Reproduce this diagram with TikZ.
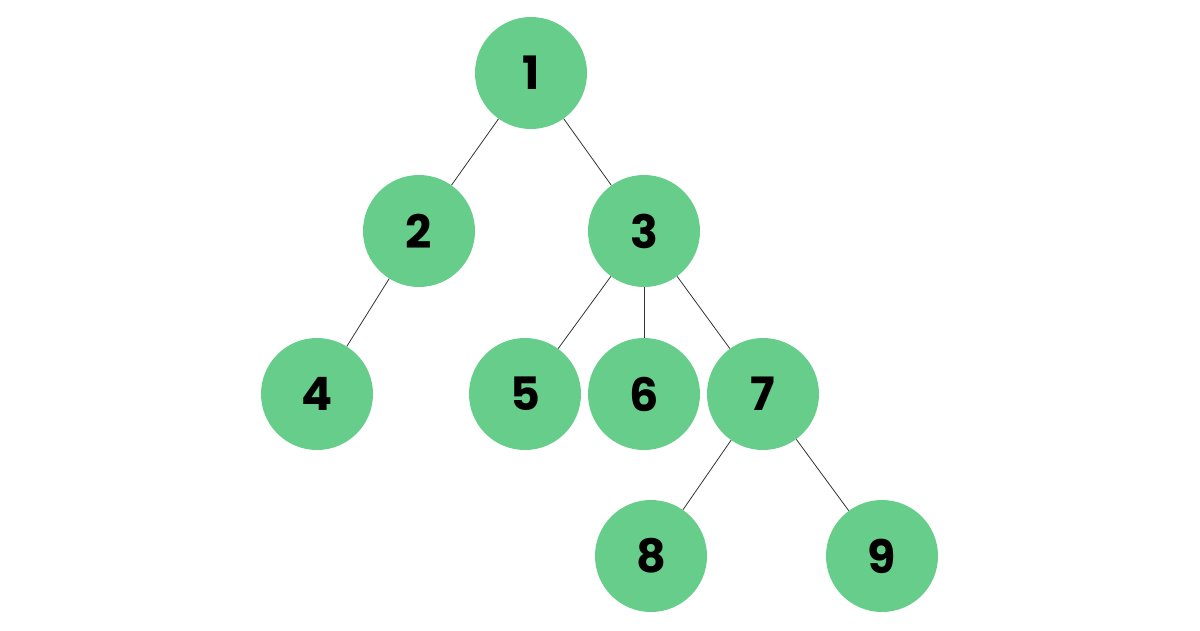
\documentclass[tikz,border=0pt]{standalone}
\usepackage{fontspec}
\setmainfont{Poppins}[BoldFont={* Bold}]
\begin{document}
\begin{tikzpicture}[x=1pt,y=-1pt,
  nd/.style={circle,fill=green!40!cyan!10!white,fill={rgb,255:red,102;green,205;blue,138},minimum size=112pt,inner sep=0pt,font=\fontsize{46}{46}\selectfont\bfseries},
  ed/.style={draw=black!80,line width=0.8pt}]
\useasboundingbox (0,0) rectangle (1200,630);
\node[nd] (n1) at (531,73) {1};
\node[nd] (n2) at (419,231) {2};
\node[nd] (n3) at (644,231) {3};
\node[nd] (n4) at (317,394) {4};
\node[nd] (n5) at (525,394) {5};
\node[nd] (n6) at (644,394) {6};
\node[nd] (n7) at (763,394) {7};
\node[nd] (n8) at (651,556) {8};
\node[nd] (n9) at (882,556) {9};
\draw[ed] (n1)--(n2); \draw[ed] (n1)--(n3);
\draw[ed] (n2)--(n4);
\draw[ed] (n3)--(n5); \draw[ed] (n3)--(n6); \draw[ed] (n3)--(n7);
\draw[ed] (n7)--(n8); \draw[ed] (n7)--(n9);
\end{tikzpicture}
\end{document}
